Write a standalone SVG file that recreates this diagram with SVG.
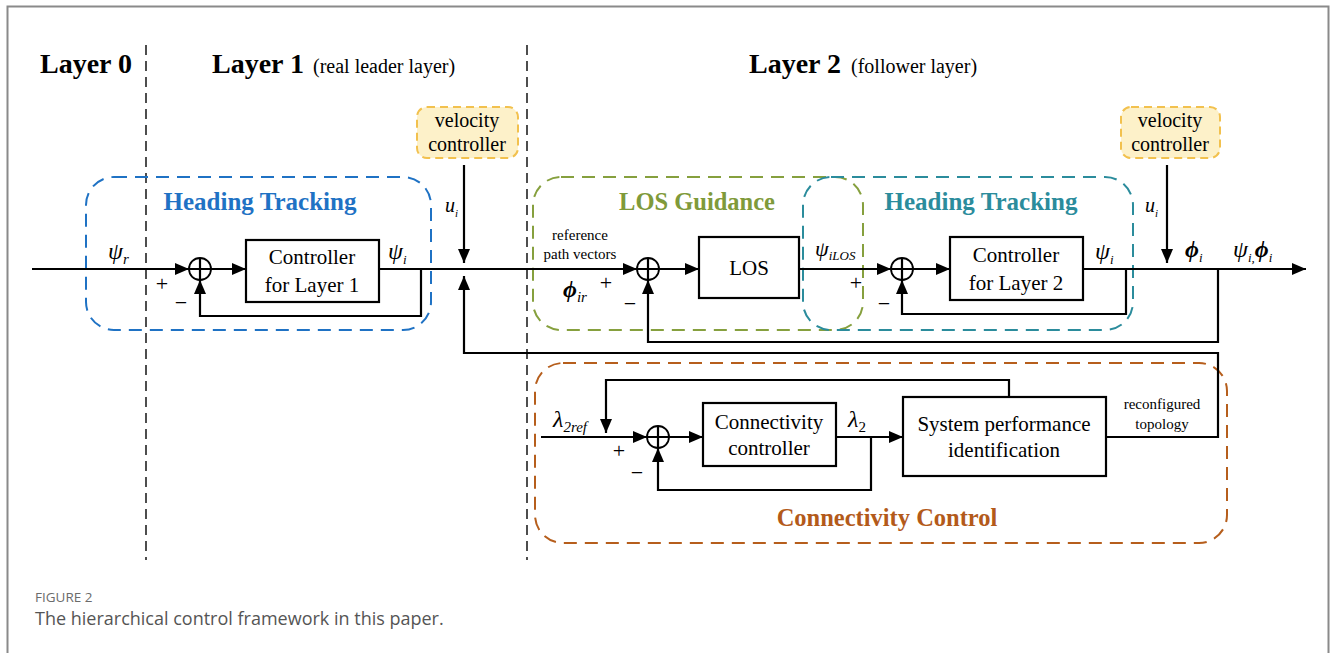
<svg xmlns="http://www.w3.org/2000/svg" width="1332" height="653" viewBox="0 0 1332 653">
<defs>
<marker id="arr" viewBox="0 0 14 12" refX="14" refY="6" markerWidth="14" markerHeight="12" markerUnits="userSpaceOnUse" orient="auto">
<path d="M0,0 L14,6 L0,12 Z" fill="#000"/>
</marker>
</defs>
<style>
.ln{fill:none;stroke:#000;stroke-width:2.2}
.box{fill:#fff;stroke:#000;stroke-width:2.2}
.sum{fill:#fff;stroke:#000;stroke-width:1.8}
.t{font-family:"Liberation Serif","Times New Roman",serif;fill:#000}
.bt{font-family:"Liberation Serif","Times New Roman",serif;font-weight:bold}
.m{font-family:"Liberation Serif","Times New Roman",serif;font-style:italic;fill:#000}
.sep{stroke:#222;stroke-width:1.6;stroke-dasharray:10,6;fill:none}
.vc{fill:#fdf1c9;stroke:#f2c14e;stroke-width:2;stroke-dasharray:8,5}
</style>
<rect x="0" y="0" width="1332" height="653" fill="#fff"/>
<path d="M7.5,653 V6.5 H1328.5 V653" fill="none" stroke="#8a8a8a" stroke-width="2"/>

<g id="layers">
<text class="bt" x="40" y="73" font-size="28">Layer 0</text>
<text class="bt" x="212" y="73" font-size="28">Layer 1</text>
<text class="t" x="313" y="73" font-size="20">(real leader layer)</text>
<text class="bt" x="749" y="73" font-size="28">Layer 2</text>
<text class="t" x="851" y="73" font-size="20">(follower layer)</text>
<line class="sep" x1="146" y1="45" x2="146" y2="560"/>
<line class="sep" x1="527" y1="45" x2="527" y2="560"/>
</g>

<g id="groups">
<rect x="86" y="177" width="345" height="153" rx="28" fill="none" stroke="#1f72c4" stroke-width="2" stroke-dasharray="13,8"/>
<text class="bt" x="260" y="210" font-size="25" fill="#1f72c4" text-anchor="middle">Heading Tracking</text>
<rect x="533" y="177" width="330" height="153" rx="28" fill="none" stroke="#86a03e" stroke-width="2" stroke-dasharray="13,8"/>
<text class="bt" x="697" y="210" font-size="24.5" fill="#7f9a3a" text-anchor="middle">LOS Guidance</text>
<rect x="803" y="177" width="330" height="153" rx="28" fill="none" stroke="#2b8c9c" stroke-width="2" stroke-dasharray="13,8"/>
<text class="bt" x="981" y="210" font-size="25" fill="#2b8c9c" text-anchor="middle">Heading Tracking</text>
<rect x="535" y="363" width="692" height="180" rx="28" fill="none" stroke="#b65e1c" stroke-width="2" stroke-dasharray="13,8"/>
<text class="bt" x="887" y="526" font-size="24.5" fill="#b35a1a" text-anchor="middle">Connectivity Control</text>
</g>

<g id="vel1">
<rect class="vc" x="417" y="107" width="101" height="51" rx="10"/>
<text class="t" x="467" y="127" font-size="20" text-anchor="middle">velocity</text>
<text class="t" x="467" y="151" font-size="20" text-anchor="middle">controller</text>
</g>
<g id="vel2">
<rect class="vc" x="1121" y="107" width="99" height="51" rx="10"/>
<text class="t" x="1170" y="127" font-size="20" text-anchor="middle">velocity</text>
<text class="t" x="1170" y="151" font-size="20" text-anchor="middle">controller</text>
</g>

<g id="ctrl1">
<rect class="box" x="246" y="240" width="133" height="62"/>
<text class="t" x="312" y="264" font-size="21" text-anchor="middle">Controller</text>
<text class="t" x="312" y="292" font-size="21" text-anchor="middle">for Layer 1</text>
</g>
<g id="los">
<rect class="box" x="699" y="237" width="100" height="61"/>
<text class="t" x="749" y="275" font-size="21" text-anchor="middle">LOS</text>
</g>
<g id="ctrl2">
<rect class="box" x="950" y="237" width="133" height="63"/>
<text class="t" x="1016" y="262" font-size="21" text-anchor="middle">Controller</text>
<text class="t" x="1016" y="290" font-size="21" text-anchor="middle">for Layer 2</text>
</g>
<g id="connctrl">
<rect class="box" x="703" y="403" width="133" height="63"/>
<text class="t" x="769" y="429" font-size="21" text-anchor="middle">Connectivity</text>
<text class="t" x="769" y="455" font-size="21" text-anchor="middle">controller</text>
</g>
<g id="sysperf">
<rect class="box" x="903" y="397" width="203" height="79"/>
<text class="t" x="1004" y="431" font-size="21" text-anchor="middle">System performance</text>
<text class="t" x="1004" y="457" font-size="21" text-anchor="middle">identification</text>
</g>

<g id="sum1"><circle class="sum" cx="200" cy="269" r="11"/><path class="ln" stroke-width="1.8" d="M189,269 H211 M200,258 V280"/></g>
<g id="sum2"><circle class="sum" cx="648" cy="269" r="11"/><path class="ln" stroke-width="1.8" d="M637,269 H659 M648,258 V280"/></g>
<g id="sum3"><circle class="sum" cx="902" cy="269" r="11"/><path class="ln" stroke-width="1.8" d="M891,269 H913 M902,258 V280"/></g>
<g id="sum4"><circle class="sum" cx="658" cy="437" r="11"/><path class="ln" stroke-width="1.8" d="M647,437 H669 M658,426 V448"/></g>

<g id="connectors">
<path class="ln" d="M32,269 H189" marker-end="url(#arr)"/>
<path class="ln" d="M211,269 H246" marker-end="url(#arr)"/>
<path class="ln" d="M421,269 V316 H200 V280" marker-end="url(#arr)"/>
<path class="ln" d="M379,269 H637" marker-end="url(#arr)"/>
<path class="ln" d="M464,165 V263" marker-end="url(#arr)"/>
<path class="ln" d="M1106,437 H1218 V353 H464 V276" marker-end="url(#arr)"/>
<path class="ln" d="M659,269 H699" marker-end="url(#arr)"/>
<path class="ln" d="M799,269 H891" marker-end="url(#arr)"/>
<path class="ln" d="M913,269 H950" marker-end="url(#arr)"/>
<path class="ln" d="M1083,269 H1306" marker-end="url(#arr)"/>
<path class="ln" d="M1126,269 V314 H902 V280" marker-end="url(#arr)"/>
<path class="ln" d="M1218,269 V342 H648 V280" marker-end="url(#arr)"/>
<path class="ln" d="M1167,165 V263" marker-end="url(#arr)"/>
<path class="ln" d="M541,437 H647" marker-end="url(#arr)"/>
<path class="ln" d="M1009,397 V380 H606 V433" marker-end="url(#arr)"/>
<path class="ln" d="M669,437 H703" marker-end="url(#arr)"/>
<path class="ln" d="M836,437 H903" marker-end="url(#arr)"/>
<path class="ln" d="M871,437 V490 H658 V448" marker-end="url(#arr)"/>
</g>

<g id="labels">
<text class="m" x="108" y="259" font-size="24">ψ<tspan font-size="15" dy="5">r</tspan></text>
<text class="t" x="162" y="291" font-size="22" text-anchor="middle">+</text>
<text class="t" x="181" y="310" font-size="22" text-anchor="middle">−</text>
<text class="m" x="388" y="259" font-size="24">ψ<tspan font-size="13" dy="5">i</tspan></text>
<text class="m" x="445" y="212" font-size="20">u<tspan font-size="11" dy="5">i</tspan></text>
<text class="t" x="580" y="240" font-size="15" text-anchor="middle">reference</text>
<text class="t" x="580" y="259" font-size="15" text-anchor="middle">path vectors</text>
<text class="m" x="563" y="297" font-size="24" font-weight="bold">ϕ<tspan font-size="15" font-weight="normal" dy="5">ir</tspan></text>
<text class="t" x="606" y="290" font-size="22" text-anchor="middle">+</text>
<text class="t" x="630" y="311" font-size="22" text-anchor="middle">−</text>
<text class="m" x="815" y="256" font-size="22">ψ<tspan font-size="13" dy="4">iLOS</tspan></text>
<text class="t" x="856" y="290" font-size="22" text-anchor="middle">+</text>
<text class="t" x="884" y="311" font-size="22" text-anchor="middle">−</text>
<text class="m" x="1095" y="259" font-size="24">ψ<tspan font-size="13" dy="5">i</tspan></text>
<text class="m" x="1145" y="212" font-size="20">u<tspan font-size="11" dy="5">i</tspan></text>
<text class="m" x="1185" y="257" font-size="24" font-weight="bold">ϕ<tspan font-size="13" font-weight="normal" dy="5">i</tspan></text>
<text class="m" x="1233" y="257" font-size="24">ψ<tspan font-size="13" dy="5">i,</tspan><tspan font-weight="bold" dy="-5">ϕ</tspan><tspan font-size="13" dy="5">i</tspan></text>
<text class="m" x="553" y="427" font-size="24">λ<tspan font-size="15" dy="5">2ref</tspan></text>
<text class="t" x="619" y="458" font-size="22" text-anchor="middle">+</text>
<text class="t" x="637" y="480" font-size="22" text-anchor="middle">−</text>
<text class="m" x="848" y="427" font-size="24">λ<tspan font-size="15" font-style="normal" dy="5">2</tspan></text>
<text class="t" x="1162" y="409" font-size="15" text-anchor="middle">reconfigured</text>
<text class="t" x="1162" y="429" font-size="15" text-anchor="middle">topology</text>
</g>

<g id="caption">
<text x="35" y="602" font-family="'Open Sans',sans-serif" font-size="13.5" fill="#6b6b6b">FIGURE 2</text>
<text x="35" y="625" font-family="'Open Sans',sans-serif" font-size="18" fill="#555">The hierarchical control framework in this paper.</text>
</g>
</svg>
